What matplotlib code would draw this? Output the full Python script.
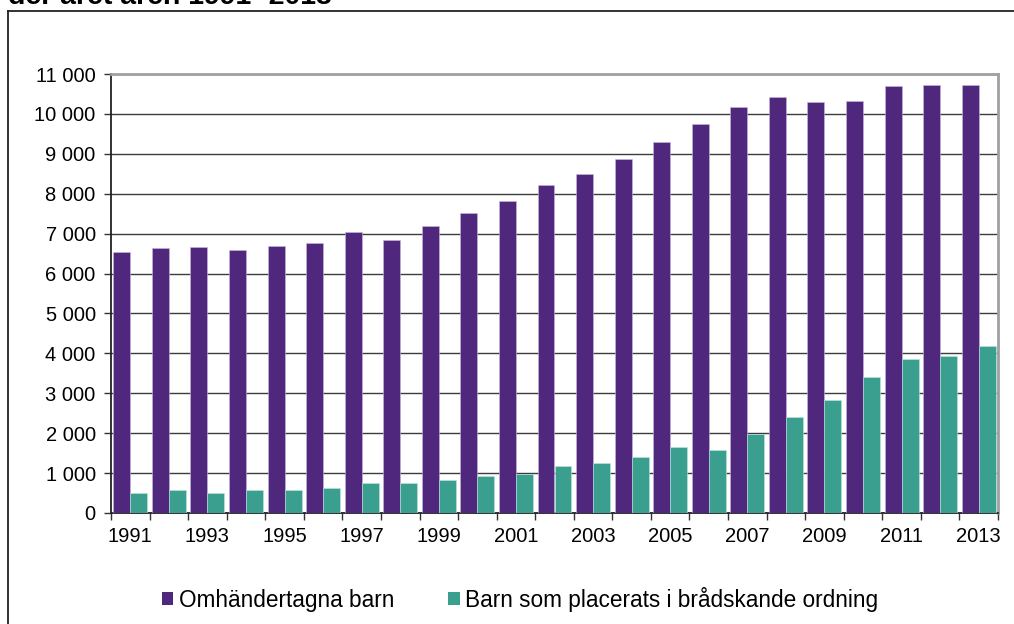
import matplotlib
matplotlib.use("Agg")
import matplotlib.pyplot as plt
import matplotlib.ticker as mticker
from matplotlib.patches import Patch
from matplotlib.lines import Line2D
import numpy as np

plt.rcParams['font.family'] = ['Liberation Sans', 'DejaVu Sans']

years = list(range(1991, 2014))
omhandertagna = [6530, 6640, 6660, 6590, 6700, 6770, 7030, 6840, 7190, 7520,
                 7820, 8230, 8500, 8870, 9300, 9740, 10170, 10420, 10290, 10320,
                 10690, 10730, 10730]
bradskande = [490, 570, 500, 580, 585, 620, 750, 750, 830, 935,
              970, 1190, 1260, 1400, 1660, 1580, 1990, 2400, 2820, 3410,
              3860, 3935, 4190]
series_labels = ["Omhändertagna barn", "Barn som placerats i brådskande ordning"]
title_text = "der året åren 1991- 2013"

purple = '#4f287d'
teal = '#3a9f8f'

W, H = 1014, 624
fig = plt.figure(figsize=(W / 100, H / 100), dpi=100)

# outer frame (left and top lines)
fig.add_artist(Line2D([8 / W, 8 / W], [0, 1 - 10.5 / H], transform=fig.transFigure,
                      color='#222222', lw=1.3))
fig.add_artist(Line2D([8 / W, 1], [1 - 10.5 / H, 1 - 10.5 / H], transform=fig.transFigure,
                      color='#222222', lw=1.3))
# clipped title (cut off at the top edge as in the reference)
fig.text(8 / W, 1 - 4 / H, title_text, fontsize=20.5, fontweight='bold',
         va='baseline', ha='left')

left, right, top, bottom = 111, 998, 74, 513
ax = fig.add_axes([left / W, 1 - bottom / H, (right - left) / W, (bottom - top) / H])

x = np.arange(len(years))
bw = 0.44
ax.bar(x - bw / 2, omhandertagna, width=bw, color=purple, edgecolor='#c9b8e0',
       linewidth=0.4, zorder=3)
ax.bar(x + bw / 2, bradskande, width=bw, color=teal, edgecolor='#bfe6df',
       linewidth=0.4, zorder=3)

ax.set_xlim(-0.5, len(years) - 0.5)
ax.set_ylim(0, 11000)
ax.set_yticks(np.arange(0, 11001, 1000))
ax.yaxis.set_major_formatter(mticker.FuncFormatter(
    lambda v, p: f"{int(v):,}".replace(",", " ")))
ax.yaxis.grid(True, color='#3c3c3c', linewidth=1.0, zorder=0)
ax.set_axisbelow(True)

ax.set_xticks(np.arange(-0.5, len(years), 1))
ax.set_xticklabels([])
ax.set_xticks(x[::2], minor=True)
ax.set_xticklabels([str(y) for y in years[::2]], minor=True)
ax.tick_params(axis='x', which='minor', length=0, pad=10, labelsize=14.5)
ax.tick_params(axis='x', which='major', length=5, width=1, color='#333333')
ax.tick_params(axis='y', length=5, width=1, color='#333333', labelsize=14.5, pad=6)

for s in ['top', 'right']:
    ax.spines[s].set_color('#a0a0a0')
    ax.spines[s].set_linewidth(2)
for s in ['left', 'bottom']:
    ax.spines[s].set_color('#222222')
    ax.spines[s].set_linewidth(1.3)

handles = [Patch(facecolor=purple, edgecolor='none'), Patch(facecolor=teal, edgecolor='none')]
fig.legend(handles, series_labels, loc='center', bbox_to_anchor=(520 / W, 1 - 599 / H),
           ncol=2, frameon=False, fontsize=16.3, handlelength=0.5, handleheight=0.5,
           handletextpad=0.25, columnspacing=2.4)

fig.savefig('out.png', dpi=100)
